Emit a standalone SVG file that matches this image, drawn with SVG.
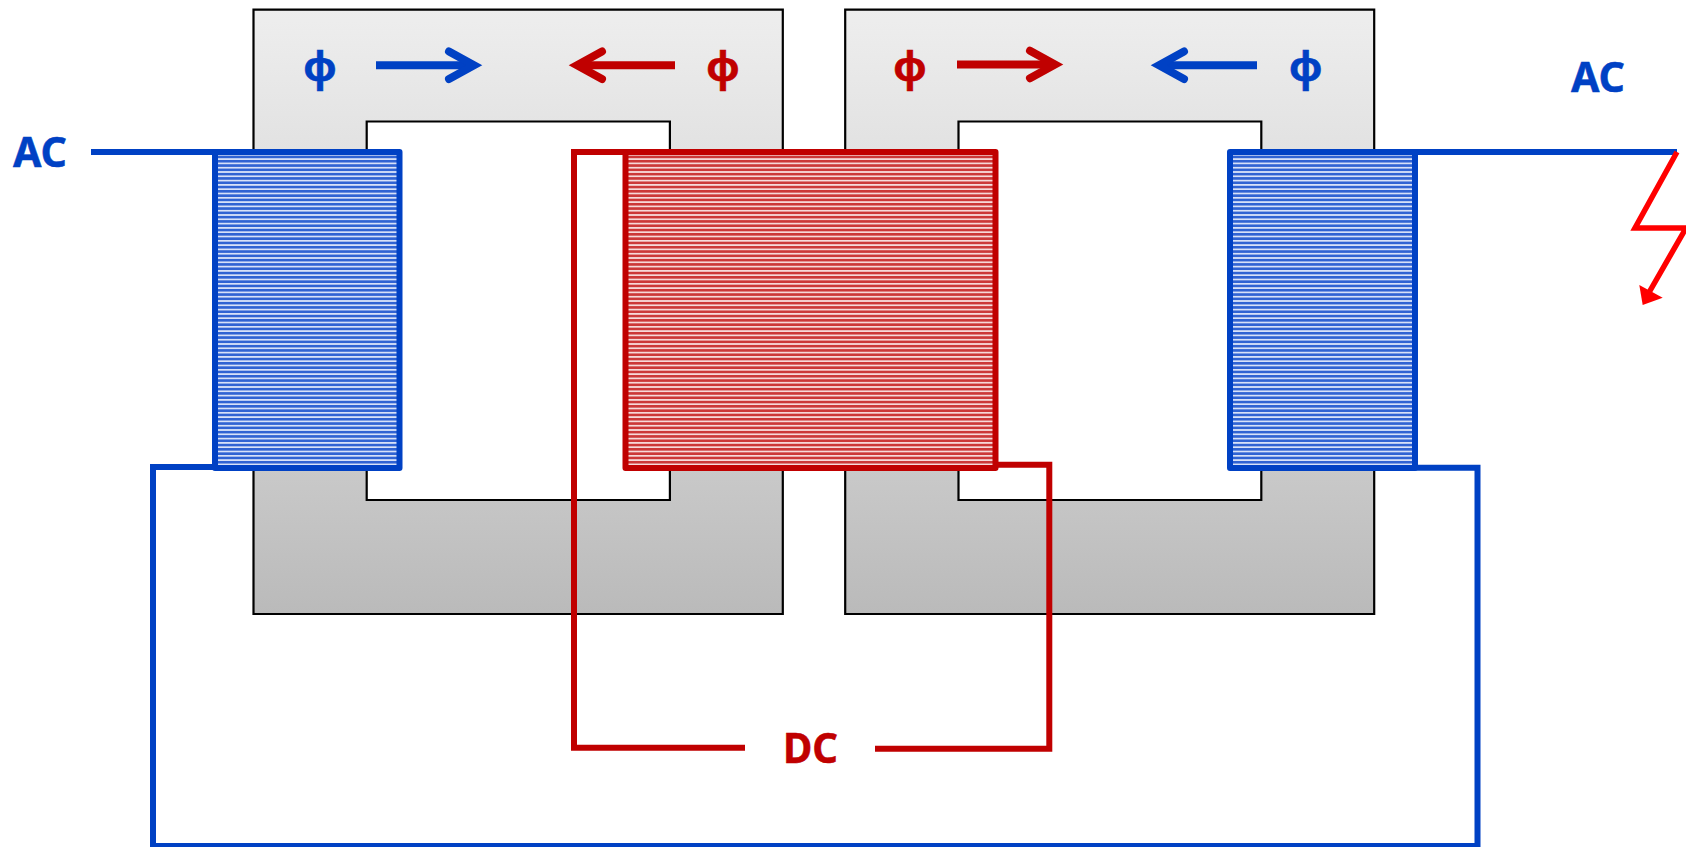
<svg xmlns="http://www.w3.org/2000/svg" width="1686" height="847" viewBox="0 0 1686 847">
<style>
.core{stroke:#000;stroke-width:2.2;fill:url(#coreGrad)}
.blue{stroke:#0041c4;fill:none}
.red{stroke:#c00000;fill:none}
.wire{stroke-width:6;fill:none}
.coil{stroke-width:6;stroke-linejoin:round}
.shaft{stroke-width:8;fill:none}
.head{stroke-width:8;fill:none;stroke-linecap:round;stroke-linejoin:miter;stroke-miterlimit:8}
text{font-family:"Noto Sans","Open Sans","Liberation Sans",sans-serif;font-weight:700}
.tb{fill:#0041c4;stroke:#0041c4;stroke-width:.5}.tr{fill:#c00000;stroke:#c00000;stroke-width:.5}
.lab{font-size:42px}
.phi{font-size:41px;text-anchor:middle}
</style>
<defs>
<linearGradient id="coreGrad" gradientUnits="userSpaceOnUse" x1="0" y1="9" x2="0" y2="614">
<stop offset="0" stop-color="#eeeeee"/><stop offset="0.25" stop-color="#e1e1e1"/><stop offset="0.76" stop-color="#c9c9c9"/><stop offset="1" stop-color="#bababa"/>
</linearGradient>
<pattern id="hatchBlue" patternUnits="userSpaceOnUse" width="8" height="4.3">
<rect width="8" height="4.3" fill="#e4ebfb"/><rect y="0.8" width="8" height="2.7" fill="#3063d3"/>
</pattern>
<pattern id="hatchRed" patternUnits="userSpaceOnUse" width="8" height="4.3">
<rect width="8" height="4.3" fill="#fae6e6"/><rect y="0.8" width="8" height="2.7" fill="#cc3838"/>
</pattern>
</defs>
<g id="core-left"><path class="core" d="M253.5,9.7H782.8V614H253.5ZM366.7,121.5V500H669.9V121.5Z" fill-rule="evenodd"/></g>
<g id="core-right"><path class="core" d="M845.2,9.7H1374.2V614H845.2ZM958.5,121.5V500H1261.3V121.5Z" fill-rule="evenodd"/></g>
<g id="connectors">
<path class="wire blue" d="M91,152H215"/>
<path class="wire blue" d="M215,467H153V846H1477.5V467.7H1415"/>
<path class="wire blue" d="M1415,152H1677"/>
<path class="wire red" d="M625,152H574V747.7H745"/>
<path class="wire red" d="M995,464.7H1049.3V748.7H875"/>
</g>
<g id="coil-left"><rect class="coil blue" x="215" y="152" width="184.5" height="316" style="fill:url(#hatchBlue)"/></g>
<g id="coil-center"><rect class="coil red" x="625.5" y="152" width="370" height="316" style="fill:url(#hatchRed)"/></g>
<g id="coil-right"><rect class="coil blue" x="1230" y="152" width="185" height="316" style="fill:url(#hatchBlue)"/></g>
<g id="fault">
<path d="M1677,152L1635,228H1686L1647,296" fill="none" stroke="#ff0000" stroke-width="5.5"/>
<polygon points="1642.7,305 1639.3,285 1662.7,297.7" fill="#ff0000"/>
</g>
<g id="flux-1"><text class="phi tb" x="320" y="80.5">ϕ</text><path class="shaft blue" d="M376,65.3H472"/><path class="head blue" d="M449,51.5L474,65.3L449,79"/></g>
<g id="flux-2"><text class="phi tr" x="723" y="80.5">ϕ</text><path class="shaft red" d="M675,65.3H579"/><path class="head red" d="M602,51.5L577,65.3L602,79"/></g>
<g id="flux-3"><text class="phi tr" x="910" y="80.5">ϕ</text><path class="shaft red" d="M957,64.5H1053"/><path class="head red" d="M1030,50.7L1055,64.5L1030,78.2"/></g>
<g id="flux-4"><text class="phi tb" x="1305.7" y="80.5">ϕ</text><path class="shaft blue" d="M1257,65.3H1161"/><path class="head blue" d="M1184,51.5L1159,65.3L1184,79"/></g>
<g id="label-ac-left"><text class="lab tb" x="13" y="167" textLength="54" lengthAdjust="spacingAndGlyphs">AC</text></g>
<g id="label-ac-right"><text class="lab tb" x="1571" y="92" textLength="54" lengthAdjust="spacingAndGlyphs">AC</text></g>
<g id="label-dc"><text class="lab tr" x="783" y="763" textLength="55" lengthAdjust="spacingAndGlyphs">DC</text></g>
</svg>
